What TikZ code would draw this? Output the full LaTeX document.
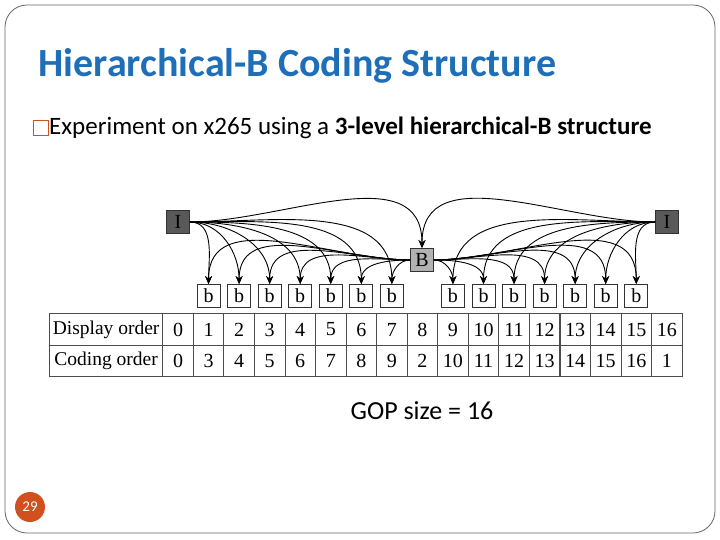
\documentclass[tikz,border=0pt]{standalone}
\usepackage{fontspec}
\setmainfont{Carlito}
\newfontfamily\tabfont{Liberation Serif}
\usetikzlibrary{arrows.meta}
\definecolor{titleblue}{HTML}{1F6FB8}
\definecolor{accent}{HTML}{D0501E}
\begin{document}
\begin{tikzpicture}[x=1pt,y=-1pt,
  fr/.style={draw=black!80,line width=0.9pt,minimum width=23pt,minimum height=23pt,inner sep=0pt,font=\tabfont\fontsize{20}{20}\selectfont},
  ifr/.style={fr,fill=black!65},
  bfr/.style={fr,fill=black!30},
  cell/.style={draw=black!70,line width=0.8pt,minimum width=30.5pt,minimum height=31.5pt,inner sep=0pt,font=\tabfont\fontsize{20}{20}\selectfont},
  arr/.style={-{Stealth[length=8pt,width=7pt]},line width=0.9pt}]
\useasboundingbox (0,0) rectangle (720,540);
\draw[black!60,line width=0.8pt,rounded corners=22pt] (5,5) rectangle (715,533);
\node[anchor=west,text=titleblue,font=\bfseries\fontsize{40}{40}\selectfont] (title) at (35,66) {Hierarchical-B Coding Structure};
\node[draw=accent,line width=1pt,minimum size=15pt,inner sep=0pt] (bul) at (41,128) {};
\node[anchor=west,font=\fontsize{25}{25}\selectfont,inner sep=0pt] (sub) at (49,128) {Experiment on x265 using a \textbf{3-level hierarchical-B structure}};
% table
\node[cell,minimum width=113pt,anchor=east,font=\tabfont\fontsize{19.5}{19.5}\selectfont] (l1) at (163,329.5) {Display order};
\node[cell,minimum width=113pt,anchor=east,font=\tabfont\fontsize{19.5}{19.5}\selectfont] (l2) at (163,361) {Coding order};
\foreach \d [count=\i from 0] in {0,...,16} {
  \node[cell] (d\i) at (178+30.55*\i,329.5) {\d};
}
\foreach \c [count=\i from 0] in {0,3,4,5,6,7,8,9,2,10,11,12,13,14,15,16,1} {
  \node[cell] (c\i) at (178+30.55*\i,361) {\c};
}
% frames
\node[ifr] (IL) at (178,222) {I};
\node[ifr] (IR) at (667,222) {I};
\node[bfr] (B) at (422,260) {B};
\foreach \i in {1,...,7,9,10,...,15} {
  \node[fr] (b\i) at (178+30.55*\i,296) {b};
}
% arrows from I
\foreach \i in {1,...,7} {
  \draw[arr] (IL.east) to[out=0,in=90] (b\i.north);
}
\draw[arr] (IL.east) to[out=0,in=90] (B.north);
\foreach \i in {9,...,15} {
  \draw[arr] (IR.west) to[out=180,in=90] (b\i.north);
}
\draw[arr] (IR.west) to[out=180,in=90] (B.north);
% arrows from B
\foreach \i in {1,...,7} {
  \draw[arr] (B.west) to[out=180,in=90] (b\i.north);
}
\foreach \i in {9,...,15} {
  \draw[arr] (B.east) to[out=0,in=90] (b\i.north);
}
\node[font=\fontsize{26}{26}\selectfont] (gop) at (422,411) {GOP size = 16};
\node[circle,fill=accent,minimum size=30pt,inner sep=0pt,text=white,font=\fontsize{15}{15}\selectfont] (pg) at (30,507) {29};
\end{tikzpicture}
\end{document}
